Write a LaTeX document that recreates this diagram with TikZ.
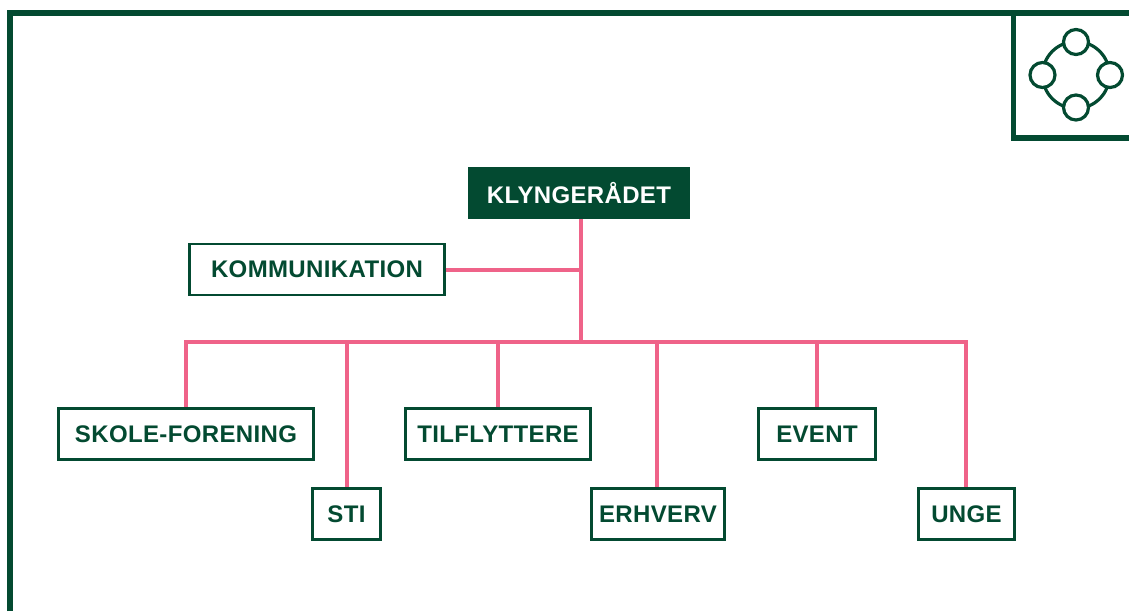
\documentclass[tikz,border=0pt]{standalone}
\usepackage{fontspec}
\setmainfont{Liberation Sans}[BoldFont={Liberation Sans Bold},LetterSpace=1.5]
\definecolor{dkgreen}{HTML}{034A31}
\definecolor{rosepk}{HTML}{EF6389}
\tikzset{
  px/.style={x=1pt,y=-1pt},
  box/.style={draw=dkgreen,line width=2.6pt,fill=white,text=dkgreen,font=\fontsize{24}{28}\selectfont\bfseries,inner sep=0pt,minimum height=51pt,anchor=center},
  headbox/.style={fill=dkgreen,text=white,font=\fontsize{24}{28}\selectfont\bfseries,inner sep=0pt,minimum height=52pt,minimum width=222pt,anchor=center},
  link/.style={draw=rosepk,line width=4pt},
  frameline/.style={draw=dkgreen,line width=5.6pt},
  ringline/.style={draw=dkgreen,line width=3.2pt},
  dot/.style={ringline,circle,fill=white,minimum size=25pt,inner sep=0pt}
}
\begin{document}
\begin{tikzpicture}[px]
\useasboundingbox (0,0) rectangle (1129,611);
% frame
\coordinate (fbl) at (10,611);
\coordinate (ftl) at (10,13);
\coordinate (ftr) at (1129,13);
\coordinate (ibl) at (1013.5,138);
\coordinate (ibr) at (1129,138);
\coordinate (itl) at (1013.5,13);
\draw[frameline,line cap=butt,line join=miter] (fbl) -- (ftl) -- (ftr);
\draw[frameline,line join=miter] (itl) -- (ibl) -- (ibr);
% icon
\coordinate (ringc) at (1076,75);
\draw[ringline] (ringc) circle[radius=33.5pt];
\node[dot] (dt) at (1076,42) {};
\node[dot] (dl) at (1042.5,75) {};
\node[dot] (dr) at (1110,75) {};
\node[dot] (db) at (1076,107.5) {};
% nodes
\node[headbox] (klynge) at (579,193) {KLYNGERÅDET};
\node[box,minimum width=254.5pt] (komm) at (317,269.5) {KOMMUNIKATION};
\node[box,minimum width=254.5pt] (skole) at (186,434) {SKOLE-FORENING};
\node[box,minimum width=184.5pt] (tilf) at (498,434) {TILFLYTTERE};
\node[box,minimum width=116.5pt] (event) at (817,434) {EVENT};
\node[box,minimum width=67.5pt] (sti) at (346.5,514) {STI};
\node[box,minimum width=132.5pt] (erhv) at (658,514) {ERHVERV};
\node[box,minimum width=95.5pt] (unge) at (966.5,514) {UNGE};
% junctions
\coordinate (jk) at (580.5,269.5);
\coordinate (jb) at (580.5,342);
\coordinate (b1) at (186,342);
\coordinate (b2) at (347,342);
\coordinate (b3) at (497.5,342);
\coordinate (b4) at (657,342);
\coordinate (b5) at (817,342);
\coordinate (b6) at (966,342);
% connectors
\draw[link] (klynge.south -| jb) -- (jb);
\draw[link] (komm.east) -- (jk);
\draw[link,line join=miter] (skole.north -| b1) -- (b1) -- (b6) -- (unge.north -| b6);
\draw[link] (b2) -- (sti.north -| b2);
\draw[link] (b3) -- (tilf.north -| b3);
\draw[link] (b4) -- (erhv.north -| b4);
\draw[link] (b5) -- (event.north -| b5);
\end{tikzpicture}
\end{document}
